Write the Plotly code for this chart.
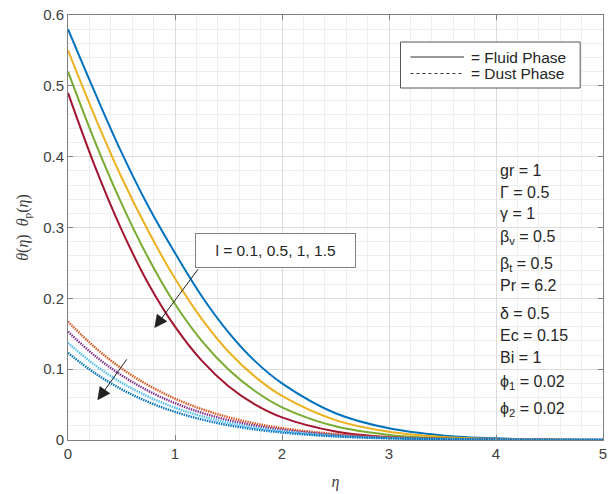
import plotly.graph_objects as go

# ---------------- data ----------------
eta = [0, 0.25, 0.5, 0.75, 1.0, 1.25, 1.5, 1.75, 2.0, 2.5, 3.0, 3.5, 4.0, 4.5, 5.0]

# Fluid phase theta(eta) for l = 0.1, 0.5, 1, 1.5
fluid_blue   = [0.580, 0.491, 0.406, 0.330, 0.264, 0.203, 0.152, 0.111, 0.080, 0.0378, 0.0165, 0.0065, 0.0023, 0.0008, 0.0002]
fluid_yellow = [0.550, 0.457, 0.371, 0.295, 0.228, 0.171, 0.1246, 0.0891, 0.0622, 0.0281, 0.0115, 0.0042, 0.0014, 0.0004, 0.0001]
fluid_green  = [0.520, 0.422, 0.334, 0.257, 0.192, 0.140, 0.0995, 0.0688, 0.0462, 0.0193, 0.0072, 0.0024, 0.0007, 0.0002, 0.0]
fluid_red    = [0.490, 0.387, 0.297, 0.221, 0.160, 0.112, 0.076, 0.050, 0.032, 0.0121, 0.0040, 0.0012, 0.0003, 0.0001, 0.0]

# Dust phase theta_p(eta)
dust_orange = [0.167, 0.131, 0.101, 0.0774, 0.0584, 0.0436, 0.0321, 0.0233, 0.0167, 0.0083, 0.0039, 0.0018, 0.0008, 0.0003, 0.0001]
dust_purple = [0.153, 0.119, 0.0914, 0.0694, 0.052, 0.0384, 0.0281, 0.0203, 0.0144, 0.0071, 0.0033, 0.0015, 0.0006, 0.0002, 0.0001]
dust_cyan   = [0.137, 0.106, 0.081, 0.0612, 0.0456, 0.0336, 0.0244, 0.0175, 0.0124, 0.0060, 0.0028, 0.0012, 0.0005, 0.0002, 0.0001]
dust_blue   = [0.123, 0.0945, 0.0717, 0.0537, 0.0397, 0.029, 0.0209, 0.0149, 0.0105, 0.0050, 0.0023, 0.0010, 0.0004, 0.0001, 0.0]

fluid_series = [fluid_blue, fluid_yellow, fluid_green, fluid_red]
fluid_colors = ["#0072BD", "#EDB120", "#77AC30", "#A2142F"]
dust_series = [dust_orange, dust_purple, dust_cyan, dust_blue]
dust_colors = ["#D95319", "#7E2F8E", "#4DBEEE", "#0072BD"]

legend_labels = ["= Fluid Phase", "= Dust Phase"]

params = ["gr = 1", "Γ = 0.5", "γ = 1", "β<sub>v</sub> = 0.5", "β<sub>t</sub> = 0.5",
          "Pr = 6.2", "δ = 0.5", "Ec = 0.15", "Bi = 1", "ϕ<sub>1</sub> = 0.02", "ϕ<sub>2</sub> = 0.02"]
param_rows_px = [170, 192, 213, 238, 264, 285, 313, 335, 357, 382, 409]

x_ticks = [0, 1, 2, 3, 4, 5]
y_ticks = [0, 0.1, 0.2, 0.3, 0.4, 0.5, 0.6]

# ---------------- figure ----------------
W, H = 609, 494
ML, MR, MT, MB = 68, 2, 15, 54
PW, PH = W - ML - MR, H - MT - MB


def px(xp):
    return (xp - ML) / PW


def py(yp):
    return (H - MB - yp) / PH


fig = go.Figure()
for ys, c in zip(fluid_series, fluid_colors):
    fig.add_trace(go.Scatter(x=eta, y=ys, mode="lines", line=dict(color=c, width=2, shape="spline"),
                             showlegend=False, hoverinfo="skip"))
for ys, c in zip(dust_series, dust_colors):
    fig.add_trace(go.Scatter(x=eta, y=ys, mode="lines",
                             line=dict(color=c, width=2.4, dash="1.4px,1.0px", shape="spline"),
                             showlegend=False, hoverinfo="skip"))

font_main = "Liberation Sans, Arial, sans-serif"
axis_common = dict(
    showline=True, linecolor="#7f7f7f", linewidth=1, mirror="ticks",
    ticks="inside", ticklen=5, tickcolor="#7f7f7f",
    showgrid=True, gridcolor="#dcdcdc", gridwidth=1, zeroline=False,
    tickfont=dict(family=font_main, size=15, color="#404040"),
)

fig.update_layout(
    width=W, height=H,
    margin=dict(l=ML, r=MR, t=MT, b=MB),
    paper_bgcolor="white", plot_bgcolor="white",
    showlegend=False,
    xaxis=dict(range=[0, 5], tickvals=x_ticks, ticklabeloverflow="allow",
               minor=dict(dtick=0.2, showgrid=True, gridcolor="#eeeeee", ticks=""),
               title=dict(text="<i>η</i>", font=dict(family="Liberation Serif, serif", size=16, color="#404040"),
                          standoff=14),
               **axis_common),
    yaxis=dict(range=[0, 0.6], tickvals=y_ticks, ticklabeloverflow="allow",
               minor=dict(dtick=0.02, showgrid=True, gridcolor="#eeeeee", ticks=""),
               title=dict(text="<i>θ</i>(<i>η</i>)  <i>θ</i><sub>p</sub>(<i>η</i>)",
                          font=dict(family="Liberation Serif, serif", size=16, color="#404040"),
                          standoff=10),
               **axis_common),
)

# manual legend box
fig.add_shape(type="rect", xref="paper", yref="paper", x0=px(403), x1=px(584), y0=py(88), y1=py(42),
              line=dict(color="#555555", width=1), fillcolor="white", layer="above")
for i, (lab, dash) in enumerate(zip(legend_labels, ["solid", "3px,3px"])):
    yy = py(57 + i * 16.5)
    fig.add_shape(type="line", xref="paper", yref="paper", x0=px(413), x1=px(467), y0=yy, y1=yy,
                  line=dict(color="#333333", width=1.2, dash=dash), layer="above")
    fig.add_annotation(xref="paper", yref="paper", x=px(472), y=yy, xanchor="left", yanchor="middle",
                       showarrow=False, text=lab, font=dict(family=font_main, size=15.5, color="#262626"))

# parameter list
for txt, yp in zip(params, param_rows_px):
    fig.add_annotation(xref="paper", yref="paper", x=px(501), y=py(yp),
                       xanchor="left", yanchor="middle", showarrow=False, text=txt,
                       font=dict(family=font_main, size=16, color="#262626"))

# text box with arrows
fig.add_annotation(x=1.943, y=0.268, xref="x", yref="y", showarrow=False,
                   text="l = 0.1, 0.5, 1, 1.5", width=143, height=17, borderpad=8,
                   bgcolor="white", bordercolor="#808080", borderwidth=1,
                   font=dict(family=font_main, size=15.5, color="#262626"))
fig.add_annotation(x=0.807, y=0.158, ax=1.225, ay=0.243, xref="x", yref="y", axref="x", ayref="y",
                   showarrow=True, arrowhead=2, arrowsize=2.6, arrowwidth=1, arrowcolor="#222222", text="")
fig.add_annotation(x=0.275, y=0.056, ax=0.559, ay=0.116, xref="x", yref="y", axref="x", ayref="y",
                   showarrow=True, arrowhead=2, arrowsize=2.6, arrowwidth=1, arrowcolor="#222222", text="")

fig.write_html("out.html")
